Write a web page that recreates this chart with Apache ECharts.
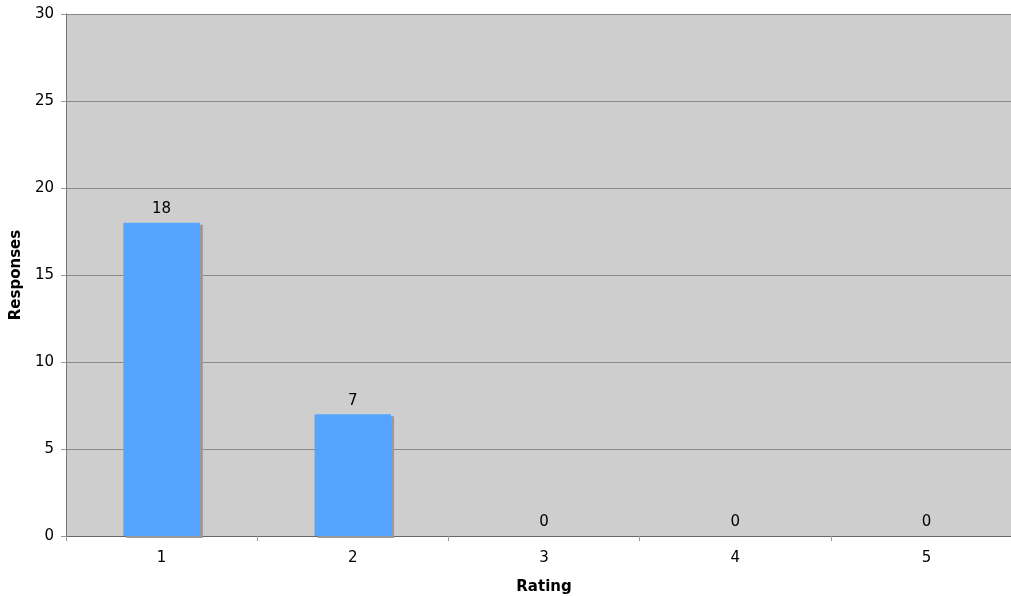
<!DOCTYPE html>
<html><head><meta charset="utf-8">
<script src="https://cdn.jsdelivr.net/npm/echarts@6/dist/echarts.min.js"></script>
<style>html,body{margin:0;padding:0;background:#fff}#c{width:1011px;height:596px}</style>
</head><body><div id="c"></div>
<script>
var categories = ['1','2','3','4','5'];
var responses = [18, 7, 0, 0, 0];
var yMin = 0, yMax = 30, yStep = 5;

var chart = echarts.init(document.getElementById('c'), null, {renderer:'canvas'});
var font = 'DejaVu Sans';
chart.setOption({
  animation:false,
  backgroundColor:'#fff',
  grid:{left:66, top:14, bottom:60, right:-11, outerBoundsMode:'none', containLabel:false, show:true, backgroundColor:'#cecece', borderWidth:0},
  xAxis:{
    type:'category', data:categories,
    name:'Rating', nameLocation:'middle', nameGap:44,
    nameTextStyle:{fontFamily:font, fontWeight:'bold', fontSize:15, color:'#000'},
    axisLine:{lineStyle:{color:'#666', width:1}},
    axisTick:{show:true, length:5, lineStyle:{color:'#999'}},
    axisLabel:{fontFamily:font, fontSize:15, color:'#000', margin:15},
    splitLine:{show:false}
  },
  yAxis:{
    type:'value', min:yMin, max:yMax, interval:yStep,
    name:'Responses', nameLocation:'middle', nameGap:41,
    nameTextStyle:{fontFamily:font, fontWeight:'bold', fontSize:15, color:'#000'},
    axisLine:{show:true, lineStyle:{color:'#777', width:1}},
    axisTick:{show:true, length:5, lineStyle:{color:'#999'}},
    axisLabel:{fontFamily:font, fontSize:15, color:'#000', margin:12},
    splitLine:{lineStyle:{color:'#8a8a8a', width:1}}
  },
  series:[{
    type:'bar', data:responses, barWidth:'40%',
    itemStyle:{color:'#55a5ff', shadowColor:'#999', shadowOffsetX:3, shadowOffsetY:2, shadowBlur:0},
    label:{show:true, position:'top', distance:6, fontFamily:font, fontSize:15, color:'#000'}
  }]
});
</script></body></html>
